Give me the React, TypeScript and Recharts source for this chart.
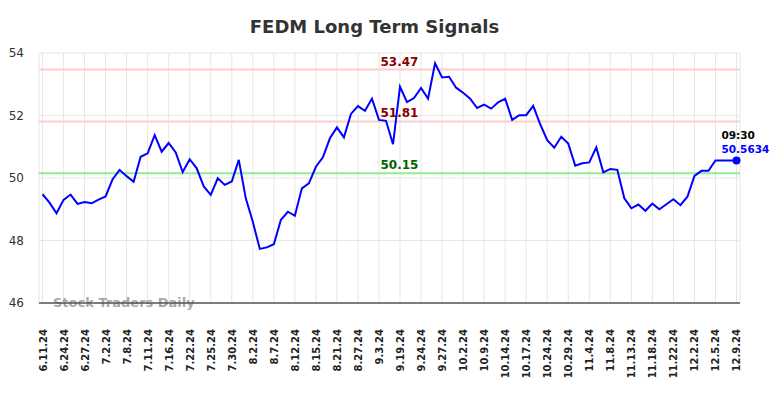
import { LineChart, Line, XAxis, YAxis, CartesianGrid, ReferenceLine, Customized } from 'recharts';

const tickLabels = [
  '6.11.24', '6.24.24', '6.27.24', '7.2.24', '7.8.24', '7.11.24', '7.16.24', '7.22.24', '7.25.24',
  '7.30.24', '8.2.24', '8.7.24', '8.12.24', '8.15.24', '8.21.24', '8.27.24', '9.3.24', '9.19.24',
  '9.24.24', '9.27.24', '10.2.24', '10.9.24', '10.14.24', '10.17.24', '10.24.24', '10.29.24',
  '11.4.24', '11.8.24', '11.13.24', '11.18.24', '11.22.24', '12.2.24', '12.5.24', '12.9.24',
];

const prices = [
  49.48, 49.21, 48.87, 49.3, 49.47, 49.17, 49.23, 49.19, 49.31, 49.41,
  49.96, 50.26, 50.06, 49.88, 50.68, 50.79, 51.37, 50.84, 51.12, 50.82,
  50.19, 50.6, 50.31, 49.73, 49.46, 49.99, 49.78, 49.89, 50.58, 49.35,
  48.6, 47.73, 47.78, 47.88, 48.66, 48.92, 48.79, 49.67, 49.83, 50.36,
  50.66, 51.27, 51.62, 51.3, 52.05, 52.3, 52.15, 52.54, 51.86, 51.83,
  51.08, 52.92, 52.43, 52.56, 52.88, 52.54, 53.67, 53.22, 53.24, 52.89,
  52.73, 52.54, 52.24, 52.35, 52.22, 52.42, 52.54, 51.86, 52.01, 52.01,
  52.31, 51.72, 51.21, 50.97, 51.32, 51.1, 50.39, 50.47, 50.5, 50.98,
  50.18, 50.29, 50.26, 49.35, 49.03, 49.15, 48.95, 49.18, 49.0, 49.16,
  49.32, 49.13, 49.4, 50.07, 50.23, 50.23, 50.56, 50.56, 50.56, 50.5634,
];

const yTicks = [46, 48, 50, 52, 54];
const levels = [
  { value: 53.47, line: '#ffcccc', text: '#8b0000' },
  { value: 51.81, line: '#ffcccc', text: '#8b0000' },
  { value: 50.15, line: '#90ee90', text: '#006400' },
];
const lastTime = '09:30';

const data = prices.map((v, i) => ({ i, v }));
const xTicks = tickLabels.map((_, k) => k * 3);

function DateTick(props: any) {
  const { x, y, payload } = props;
  const label = tickLabels[Math.round(payload.value / 3)] ?? '';
  return (
    <text
      x={x + 4}
      y={y + 18}
      transform={`rotate(-90, ${x + 4}, ${y + 18})`}
      textAnchor="end"
      fontSize={10}
      fontWeight="bold"
      fill="#222"
    >
      {label}
    </text>
  );
}

function LastDot(props: any) {
  const { cx, cy, index } = props;
  if (index !== prices.length - 1) return <g key={index} />;
  return (
    <g key={index}>
      <circle cx={cx} cy={cy} r={4} fill="#0000ff" />
      <text x={cx - 15} y={cy - 21} fontSize={10.5} fontWeight="bold" fill="#000">
        {lastTime}
      </text>
      <text x={cx - 15} y={cy - 7} fontSize={10.5} fontWeight="bold" fill="#0000ff">
        {prices[prices.length - 1]}
      </text>
    </g>
  );
}

function Overlay() {
  return (
    <g>
      <text x={374.5} y={33} textAnchor="middle" fontSize={18} fontWeight="bold" fill="#333">
        FEDM Long Term Signals
      </text>
      <text x={53} y={307} fontSize={13} fontWeight="bold" fill="#999" fillOpacity={0.85}>
        Stock Traders Daily
      </text>
    </g>
  );
}

export default function App() {
  return (
    <div style={{ position: 'absolute', left: 0, top: 0, width: 784, height: 398, background: '#fff', fontFamily: '"DejaVu Sans", sans-serif' }}>
      <LineChart width={784} height={398} data={data} margin={{ top: 53, right: 44, left: 0, bottom: 0 }}>
        <CartesianGrid stroke="#e6e6e6" strokeWidth={1} />
        <XAxis
          dataKey="i"
          type="number"
          domain={[-0.5, 99.5]}
          ticks={xTicks}
          interval={0}
          height={95}
          tickLine={false}
          axisLine={{ stroke: '#555', strokeWidth: 1.5 }}
          tick={<DateTick />}
        />
        <YAxis
          domain={[46, 54]}
          ticks={yTicks}
          width={39}
          axisLine={false}
          tickLine={false}
          tickMargin={9}
          tick={{ fill: '#333', fontSize: 12 }}
        />
        {levels.map((l) => (
          <ReferenceLine
            key={l.value}
            y={l.value}
            stroke={l.line}
            strokeWidth={2}
            label={(p: any) => (
              <text x={380.5} y={p.viewBox.y - 4} fontSize={12} fontWeight="bold" fill={l.text}>
                {l.value.toFixed(2)}
              </text>
            )}
          />
        ))}
        <Line
          type="linear"
          dataKey="v"
          stroke="#0000ff"
          strokeWidth={2}
          dot={<LastDot />}
          activeDot={false}
          isAnimationActive={false}
        />
        <Customized component={<Overlay />} />
      </LineChart>
    </div>
  );
}
